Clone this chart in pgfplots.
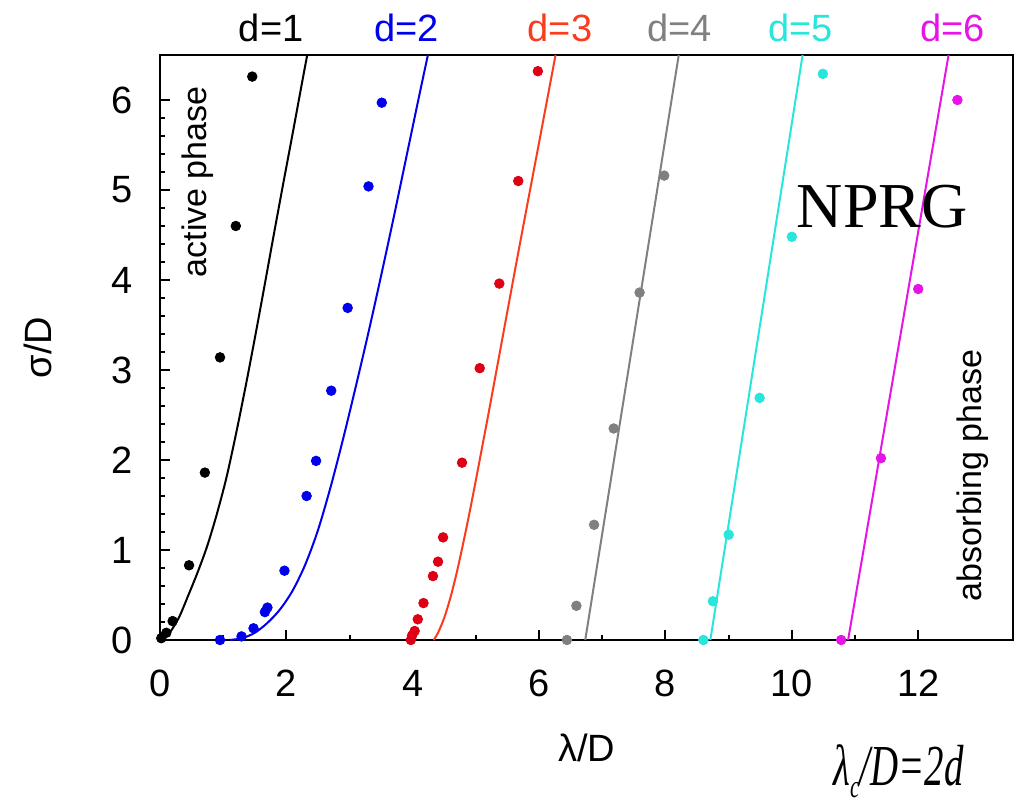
\documentclass[border=0pt]{standalone}
\usepackage{pgfplots}
\pgfplotsset{compat=1.18}
\usepackage{fontspec}
\setmainfont{Liberation Sans}
\newfontfamily\serif{Liberation Serif}
\definecolor{cblue}{RGB}{0,0,235}
\definecolor{cred}{RGB}{222,0,20}
\definecolor{credline}{RGB}{250,60,30}
\definecolor{cgray}{RGB}{128,128,128}
\definecolor{ccyan}{RGB}{40,230,220}
\definecolor{cmag}{RGB}{230,20,230}
\begin{document}
\begin{tikzpicture}
\begin{axis}[
  scale only axis, width=426.5pt, height=292.5pt,
  xmin=0, xmax=13.5, ymin=0, ymax=6.5,
  clip=false,
  axis line style={line width=1.4pt},
  xtick={0,2,...,12}, ytick={0,1,...,6},
  minor x tick num=1, minor y tick num=4,
  xtick pos=bottom, ytick pos=left,
  tick align=inside,
  major tick length=5pt, minor tick length=2.5pt,
  every tick/.style={black, line width=1pt},
  tick label style={font=\fontsize{19}{22}\selectfont},
  /pgf/number format/assume math mode=true,
  xticklabel style={inner sep=0pt, anchor=north, yshift=-15pt},
  yticklabel style={inner sep=0pt, anchor=east, xshift=-13.5pt},
]
% curves
\addplot[black, line width=1pt, smooth] coordinates {(0,0) (0.15,0.08) (0.3,0.25) (0.45,0.5) (0.6,0.76) (0.75,1.05) (0.9,1.4) (1.05,1.8) (1.2,2.28) (1.35,2.8) (1.5,3.35) (1.65,3.92) (1.8,4.5) (1.95,5.07) (2.1,5.63) (2.25,6.2) (2.33,6.5)};
\addplot[cblue, line width=1pt, smooth] coordinates {(1.1,0) (1.3,0.02) (1.5,0.08) (1.7,0.19) (1.9,0.34) (2.1,0.55) (2.3,0.84) (2.5,1.22) (2.7,1.7) (2.9,2.24) (3.1,2.82) (3.3,3.42) (3.5,4.05) (3.7,4.7) (3.9,5.37) (4.1,6.04) (4.24,6.5)};
\addplot[credline, line width=1pt, smooth] coordinates {(4.33,0) (4.4,0.08) (4.5,0.25) (4.6,0.48) (4.7,0.76) (4.8,1.08) (4.9,1.42) (5.0,1.78) (5.1,2.15) (5.2,2.52) (5.3,2.9) (5.4,3.28) (5.6,4.04) (5.8,4.79) (6.0,5.53) (6.26,6.5)};
\addplot[cgray, line width=1pt] coordinates {(6.73,0) (8.21,6.5)};
\addplot[ccyan, line width=1pt] coordinates {(8.71,0) (10.17,6.5)};
\addplot[cmag, line width=1pt] coordinates {(10.89,0) (12.48,6.5)};
% points
\addplot[only marks, mark=*, mark size=2.4pt, black] coordinates {(0.02,0.02) (0.1,0.08) (0.2,0.21) (0.46,0.83) (0.71,1.86) (0.95,3.14) (1.2,4.6) (1.46,6.26)};
\addplot[only marks, mark=*, mark size=2.4pt, cblue] coordinates {(0.95,0) (1.29,0.04) (1.48,0.13) (1.66,0.31) (1.7,0.36) (1.97,0.77) (2.32,1.6) (2.47,1.99) (2.71,2.77) (2.97,3.69) (3.3,5.04) (3.51,5.97)};
\addplot[only marks, mark=*, mark size=2.4pt, cred] coordinates {(3.97,0) (3.99,0.05) (4.03,0.1) (4.08,0.23) (4.17,0.41) (4.32,0.71) (4.40,0.87) (4.48,1.14) (4.78,1.97) (5.06,3.02) (5.37,3.96) (5.67,5.1) (5.98,6.32)};
\addplot[only marks, mark=*, mark size=2.4pt, cgray] coordinates {(6.44,0) (6.59,0.38) (6.87,1.28) (7.18,2.35) (7.59,3.86) (7.98,5.16)};
\addplot[only marks, mark=*, mark size=2.4pt, ccyan] coordinates {(8.6,0) (8.75,0.43) (9.0,1.17) (9.49,2.69) (10.0,4.48) (10.49,6.29)};
\addplot[only marks, mark=*, mark size=2.4pt, cmag] coordinates {(10.78,0) (11.41,2.02) (12.0,3.9) (12.62,6.0)};
% labels
\begin{scope}[every node/.style={font=\fontsize{19}{22}\selectfont, anchor=base, inner sep=0pt, yshift=6.5pt}]
\node[text=black] at (axis cs:1.76,6.5) {d=1};
\node[text=cblue] at (axis cs:3.9,6.5) {d=2};
\node[text=credline] at (axis cs:6.33,6.5) {d=3};
\node[text=cgray] at (axis cs:8.22,6.5) {d=4};
\node[text=ccyan] at (axis cs:10.14,6.5) {d=5};
\node[text=cmag] at (axis cs:12.54,6.5) {d=6};
\end{scope}
\node[rotate=90, font=\fontsize{17}{20}\selectfont, inner sep=0pt] at (axis cs:0.6,5.09) {active phase};
\node[rotate=90, font=\fontsize{17}{20}\selectfont, inner sep=0pt] at (axis cs:12.86,1.83) {absorbing phase};
\node[font=\fontsize{32}{36}\selectfont\serif, inner sep=0pt] at (axis cs:11.43,4.81) {NPRG};
\node[font=\fontsize{19}{22}\selectfont, inner sep=0pt, anchor=base] at ([yshift=-61pt]rel axis cs:0.5,0) {λ/D};
\node[font=\fontsize{19}{22}\selectfont, inner sep=0pt, anchor=base, rotate=90] at ([xshift=-54pt]rel axis cs:0,0.5) {σ/D};
\node[font=\fontsize{29}{32}\selectfont\serif\itshape, inner sep=0pt, anchor=base west] at (axis cs:10.65,-1.62) {\scalebox{0.67}[1]{λ\raisebox{-0.2em}{\fontsize{16}{16}\selectfont c}/D=2d}};
\coordinate (bl) at (rel axis cs:0,0);
\coordinate (tr) at (rel axis cs:1,1);
\end{axis}
\pgfresetboundingbox
\path[use as bounding box] ([shift={(-80pt,-82.5pt)}]bl) rectangle ([shift={(4pt,27.5pt)}]tr);
\end{tikzpicture}
\end{document}
